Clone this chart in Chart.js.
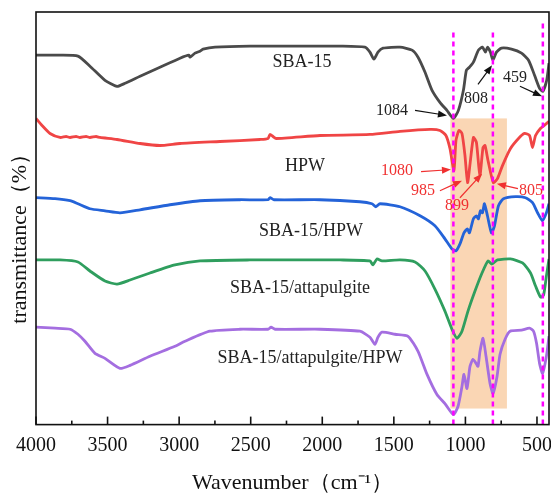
<!DOCTYPE html>
<html>
<head>
<meta charset="utf-8">
<script src="https://cdn.jsdelivr.net/npm/chart.js@4.4.1/dist/chart.umd.min.js"></script>
<style>
html, body { margin: 0; padding: 0; background: #fff; }
#wrap { width: 551px; height: 496px; }
</style>
</head>
<body>
<div id="wrap"><canvas id="ftir"></canvas></div>
<script>
// FTIR spectra, offset vertically (arbitrary transmittance units)
const sbaWn = [4000, 3832, 3707, 3623, 3518, 3434, 3378, 3273, 3134, 2994, 2931, 2924, 2889, 2854, 2833, 2749, 2505, 2156, 1876, 1702, 1667, 1639, 1611, 1576, 1457, 1373, 1331, 1282, 1233, 1178, 1129, 1084, 1049, 1014, 993, 972, 944, 909, 881, 860, 846, 825, 808, 783, 748, 678, 608, 559, 517, 482, 459, 432, 416];
const sbaT = [368, 368, 367, 357, 343, 337, 340, 347, 356, 365, 368, 366, 370, 372, 374, 376, 377, 377, 377, 376, 371, 364, 371, 375, 376, 373, 366, 351, 333, 321, 313, 305, 313, 333, 353, 356, 361, 373, 376, 371, 376, 371, 363, 371, 375, 374, 370, 363, 348, 335, 332, 343, 360];

const hpwWn = [4000, 3958, 3902, 3832, 3790, 3762, 3720, 3693, 3650, 3623, 3580, 3553, 3434, 3273, 3134, 2994, 2715, 2435, 2379, 2365, 2344, 2323, 2016, 1667, 1457, 1247, 1178, 1136, 1108, 1080, 1066, 1045, 1024, 1003, 985, 965, 944, 923, 899, 877, 863, 842, 805, 776, 741, 685, 629, 587, 552, 531, 510, 476, 441, 416];
const hpwT = [305, 298, 290, 286, 287, 286, 287, 286, 287, 286, 287, 286, 284, 280, 278, 280, 282, 284, 285, 289, 287, 285, 288, 289, 292, 294, 293, 288, 275, 253, 283, 293, 290, 268, 241, 263, 286, 281, 248, 276, 278, 263, 241, 245, 258, 275, 285, 290, 288, 276, 288, 295, 299, 302];

const sbaHpwWn = [4000, 3867, 3762, 3707, 3623, 3518, 3413, 3273, 3064, 2854, 2575, 2379, 2365, 2337, 2016, 1737, 1653, 1625, 1597, 1457, 1317, 1213, 1143, 1094, 1066, 1038, 1010, 986, 972, 944, 923, 909, 895, 881, 867, 846, 818, 797, 769, 734, 650, 580, 531, 496, 462, 434, 416];
const sbaHpwT = [226, 225, 223, 220, 215, 213, 211, 214, 219, 223, 224, 224, 226, 224, 224, 222, 220, 217, 220, 217, 208, 198, 185, 175, 173, 180, 191, 195, 191, 205, 208, 205, 213, 211, 220, 208, 191, 198, 218, 225, 227, 226, 221, 211, 203, 211, 220];

const attaWn = [4000, 3832, 3707, 3623, 3518, 3434, 3343, 3204, 3029, 2854, 2505, 2156, 1876, 1667, 1646, 1618, 1583, 1457, 1352, 1282, 1213, 1143, 1094, 1059, 1024, 982, 933, 884, 842, 815, 776, 685, 601, 545, 510, 475, 454, 434, 416];
const attaT = [164, 164, 162, 153, 143, 140, 144, 151, 159, 163, 164, 164, 164, 163, 159, 165, 163, 164, 162, 153, 135, 113, 95, 86, 93, 113, 133, 151, 163, 160, 164, 165, 161, 151, 138, 127, 129, 148, 165];

const attaHpwWn = [4000, 3867, 3762, 3707, 3658, 3588, 3518, 3413, 3343, 3204, 3029, 2959, 2785, 2575, 2379, 2358, 2330, 2016, 1737, 1667, 1632, 1611, 1583, 1492, 1401, 1331, 1268, 1199, 1143, 1084, 1052, 1024, 1010, 989, 968, 947, 926, 912, 898, 877, 856, 828, 807, 779, 758, 723, 688, 608, 552, 524, 503, 482, 461, 434, 416];
const attaHpwT = [97, 96, 95, 90, 83, 71, 66, 56, 59, 68, 78, 83, 93, 95, 95, 97, 95, 95, 93, 87, 80, 87, 92, 90, 88, 73, 50, 30, 21, 10, 18, 38, 50, 36, 58, 65, 61, 58, 73, 86, 68, 41, 31, 48, 70, 85, 93, 94, 96, 93, 81, 61, 51, 68, 88];

const seriesNames = ['SBA-15', 'HPW', 'SBA-15/HPW', 'SBA-15/attapulgite', 'SBA-15/attapulgite/HPW'];
const markedPeaks = [1084, 808, 459];
const bandLimits = [1105, 710];
const tickValues = [4000, 3500, 3000, 2500, 2000, 1500, 1000, 500];

const colors = ['#4a4a4a', '#f04545', '#2463d8', '#2f9e5e', '#a46ee0'];
const FONT = '"Liberation Serif", "Times New Roman", serif';

function pts(xs, ys) {
    return xs.map((x, i) => ({ x: x, y: ys[i] }));
}

const curves = [
    pts(sbaWn, sbaT), pts(hpwWn, hpwT), pts(sbaHpwWn, sbaHpwT),
    pts(attaWn, attaT), pts(attaHpwWn, attaHpwT)
];

const datasets = [];
// пунктирные линии пиков
markedPeaks.forEach((p, i) => {
    datasets.push({
        label: 'peak ' + p,
        data: [{ x: p, y: 0 }, { x: p, y: i === 2 ? 400 : 392 }],
        borderColor: '#ff00ff',
        borderWidth: 2.5,
        borderDash: [5, 4],
        pointRadius: 0,
        order: 0
    });
});
curves.forEach((c, i) => {
    datasets.push({
        label: seriesNames[i],
        data: c,
        borderColor: colors[i],
        borderWidth: 2.8,
        pointRadius: 0,
        tension: 0.2,
        borderJoinStyle: 'round',
        order: 1
    });
});

// подписи и стрелки (в координатах данных)
const labels = [
    { t: 'SBA-15', x: 2142, y: 361, c: '#222', s: 18 },
    { t: 'HPW', x: 2121, y: 257, c: '#222', s: 18 },
    { t: 'SBA-15/HPW', x: 2079, y: 193, c: '#222', s: 18 },
    { t: 'SBA-15/attapulgite', x: 2156, y: 136, c: '#222', s: 18 },
    { t: 'SBA-15/attapulgite/HPW', x: 2086, y: 66, c: '#222', s: 18 },
    { t: '1084', x: 1513, y: 313, c: '#222', s: 16 },
    { t: '808', x: 926, y: 325, c: '#222', s: 16 },
    { t: '459', x: 654, y: 345, c: '#222', s: 16 },
    { t: '1080', x: 1478, y: 253, c: '#f03030', s: 16 },
    { t: '985', x: 1296, y: 233, c: '#f03030', s: 16 },
    { t: '899', x: 1059, y: 218, c: '#f03030', s: 16 },
    { t: '805', x: 542, y: 233, c: '#f03030', s: 16 }
];
const arrows = [
    { x1: 1352, y1: 313, x2: 1129, y2: 308, c: '#111' },
    { x1: 912, y1: 339, x2: 814, y2: 358, c: '#111' },
    { x1: 619, y1: 337, x2: 465, y2: 327, c: '#111' },
    { x1: 1310, y1: 252, x2: 1101, y2: 254, c: '#f03030' },
    { x1: 1178, y1: 233, x2: 1024, y2: 243, c: '#f03030' },
    { x1: 1038, y1: 226, x2: 884, y2: 250, c: '#f03030' },
    { x1: 633, y1: 235, x2: 780, y2: 240, c: '#f03030' }
];

const decor = {
    id: 'decor',
    beforeDatasetsDraw(chart) {
        const { ctx, scales: { x, y } } = chart;
        // полоса 700-1100
        const xa = x.getPixelForValue(bandLimits[0]);
        const xb = x.getPixelForValue(bandLimits[1]);
        const ya = y.getPixelForValue(305);
        const yb = y.getPixelForValue(16);
        ctx.save();
        ctx.fillStyle = 'rgba(248, 200, 155, 0.75)';
        ctx.fillRect(xa, ya, xb - xa, yb - ya);
        ctx.restore();
    },
    afterDatasetsDraw(chart) {
        const { ctx, chartArea: a, scales: { x, y } } = chart;
        ctx.save();
        // рамка
        ctx.strokeStyle = '#111';
        ctx.lineWidth = 1.6;
        ctx.strokeRect(a.left, a.top, a.right - a.left, a.bottom - a.top);
        // засечки внутрь
        ctx.lineWidth = 1.6;
        x.ticks.forEach(t => {
            const px = x.getPixelForValue(t.value);
            ctx.beginPath();
            ctx.moveTo(px, a.bottom);
            ctx.lineTo(px, a.bottom - 8);
            ctx.stroke();
            const m = t.value - 250;
            if (m > x.min) {
                const pm = x.getPixelForValue(m);
                ctx.beginPath();
                ctx.moveTo(pm, a.bottom);
                ctx.lineTo(pm, a.bottom - 4);
                ctx.stroke();
            }
        });
        // подписи
        ctx.textAlign = 'center';
        ctx.textBaseline = 'middle';
        labels.forEach(l => {
            ctx.fillStyle = l.c;
            ctx.font = l.s + 'px ' + FONT;
            ctx.fillText(l.t, x.getPixelForValue(l.x), y.getPixelForValue(l.y));
        });
        // стрелки
        arrows.forEach(r => {
            const x1 = x.getPixelForValue(r.x1), y1 = y.getPixelForValue(r.y1);
            const x2 = x.getPixelForValue(r.x2), y2 = y.getPixelForValue(r.y2);
            const ang = Math.atan2(y2 - y1, x2 - x1);
            ctx.strokeStyle = r.c;
            ctx.fillStyle = r.c;
            ctx.lineWidth = 1.2;
            ctx.beginPath();
            ctx.moveTo(x1, y1);
            ctx.lineTo(x2 - 6 * Math.cos(ang), y2 - 6 * Math.sin(ang));
            ctx.stroke();
            ctx.beginPath();
            ctx.moveTo(x2, y2);
            ctx.lineTo(x2 - 9 * Math.cos(ang) + 3.5 * Math.sin(ang), y2 - 9 * Math.sin(ang) - 3.5 * Math.cos(ang));
            ctx.lineTo(x2 - 9 * Math.cos(ang) - 3.5 * Math.sin(ang), y2 - 9 * Math.sin(ang) + 3.5 * Math.cos(ang));
            ctx.closePath();
            ctx.fill();
        });
        // подпись оси Y
        ctx.translate(20, (a.top + a.bottom) / 2 + 15);
        ctx.rotate(-Math.PI / 2);
        ctx.fillStyle = '#111';
        ctx.font = '22px ' + FONT;
        ctx.fillText('transmittance（%）', 0, 0);
        ctx.restore();
    }
};

new Chart(document.getElementById('ftir'), {
    type: 'line',
    data: { datasets: datasets },
    options: {
        responsive: true,
        maintainAspectRatio: false,
        animation: false,
        layout: { padding: { left: 36, top: 12, right: 2, bottom: 0 } },
        plugins: { legend: { display: false }, tooltip: { enabled: false } },
        scales: {
            x: {
                type: 'linear',
                reverse: true,
                min: 416,
                max: 4000,
                grid: { display: false, drawTicks: false },
                border: { display: false },
                afterBuildTicks(scale) {
                    scale.ticks = tickValues.map(v => ({ value: v }));
                },
                afterFit(scale) {
                    scale.paddingLeft = 0;
                    scale.paddingRight = 0;
                },
                ticks: {
                    padding: 9,
                    color: '#111',
                    maxRotation: 0,
                    autoSkip: false,
                    callback: v => String(v),
                    font: { family: FONT, size: 20 }
                },
                title: {
                    display: true,
                    text: 'Wavenumber（cm⁻¹）',
                    color: '#111',
                    padding: { top: 3, bottom: 0 },
                    font: { family: FONT, size: 22 }
                }
            },
            y: {
                display: false,
                min: 0,
                max: 411
            }
        }
    },
    plugins: [decor]
});
</script>
</body>
</html>
